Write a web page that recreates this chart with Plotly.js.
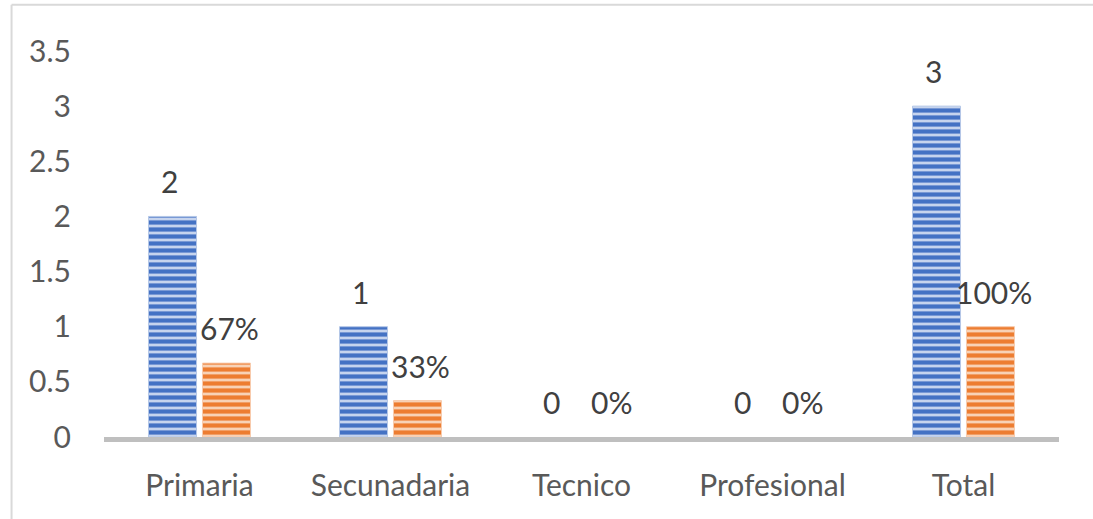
<!DOCTYPE html>
<html>
<head>
<meta charset="utf-8">
<script src="https://cdn.plot.ly/plotly-3.0.1.min.js"></script>
<style>
html,body{margin:0;padding:0;background:#fff;}
#chart{width:1093px;height:519px;}
</style>
</head>
<body>
<div id="chart"></div>
<script>
const categories = ["Primaria", "Secunadaria", "Tecnico", "Profesional", "Total"];
const counts = [2, 1, 0, 0, 3];
const shares = [0.67, 0.33, 0, 0, 1];
const countLabels = ["2", "1", "0", "0", "3"];
const shareLabels = ["67%", "33%", "0%", "0%", "100%"];
const yTicks = [0, 0.5, 1, 1.5, 2, 2.5, 3, 3.5];

const FONT = "Lato, 'Open Sans', sans-serif";
const TXT = "#595959";
const FS = 30;

const traceCounts = {
  type: "bar", x: categories, y: counts, name: "Cantidad",
  marker: {
    color: "#c2d1ee",
    line: {color: "#b4c7e7", width: counts.map(v => v > 0 ? 1 : 0)},
    pattern: {shape: "-", fgcolor: "#4472c4", bgcolor: "#c6d4ee", size: 7, solidity: 0.6, fillmode: "replace"}
  },
  hoverinfo: "skip"
};
const traceShares = {
  type: "bar", x: categories, y: shares, name: "Porcentaje",
  marker: {
    color: "#f8cfae",
    line: {color: "#f8cbad", width: shares.map(v => v > 0 ? 1 : 0)},
    pattern: {shape: "-", fgcolor: "#ed7d31", bgcolor: "#f8d2b6", size: 7, solidity: 0.6, fillmode: "replace"}
  },
  hoverinfo: "skip"
};

const annotations = [];
categories.forEach((c, i) => {
  annotations.push({x: c, y: counts[i], text: countLabels[i], showarrow: false, xshift: -30, yshift: 35,
    yanchor: "middle", font: {family: FONT, size: FS, color: "#404040"}});
  annotations.push({x: c, y: shares[i], text: shareLabels[i], showarrow: false, xshift: 30, yshift: 35,
    yanchor: "middle", font: {family: FONT, size: FS, color: "#404040"}});
});

const layout = {
  width: 1093, height: 519,
  margin: {l: 104, r: 34, t: 51, b: 82},
  paper_bgcolor: "#ffffff", plot_bgcolor: "#ffffff",
  showlegend: false,
  barmode: "group", bargap: 0.435, bargroupgap: 0.11,
  font: {family: FONT, size: FS, color: TXT},
  xaxis: {
    type: "category", showline: true, linecolor: "#bfbfbf", linewidth: 5,
    showgrid: false, zeroline: false, ticks: "", ticklabelstandoff: 18,
    tickfont: {family: FONT, size: FS, color: TXT}, fixedrange: true
  },
  yaxis: {
    range: [0, 3.5], tickvals: yTicks, ticktext: yTicks.map(String),
    showline: false, showgrid: false, zeroline: false, ticks: "", ticklabelstandoff: 32,
    tickfont: {family: FONT, size: FS, color: TXT}, fixedrange: true
  },
  annotations: annotations,
  shapes: [
    {type: "line", xref: "paper", yref: "paper", x0: -0.0968, x1: 1.04, y0: 1.12, y1: 1.12,
      line: {color: "#d9d9d9", width: 2}},
    {type: "line", xref: "paper", yref: "paper", x0: -0.0968, x1: -0.0968, y0: 1.12, y1: -0.3,
      line: {color: "#d9d9d9", width: 2}}
  ]
};

Plotly.newPlot("chart", [traceCounts, traceShares], layout, {displayModeBar: false, staticPlot: true});
</script>
</body>
</html>
